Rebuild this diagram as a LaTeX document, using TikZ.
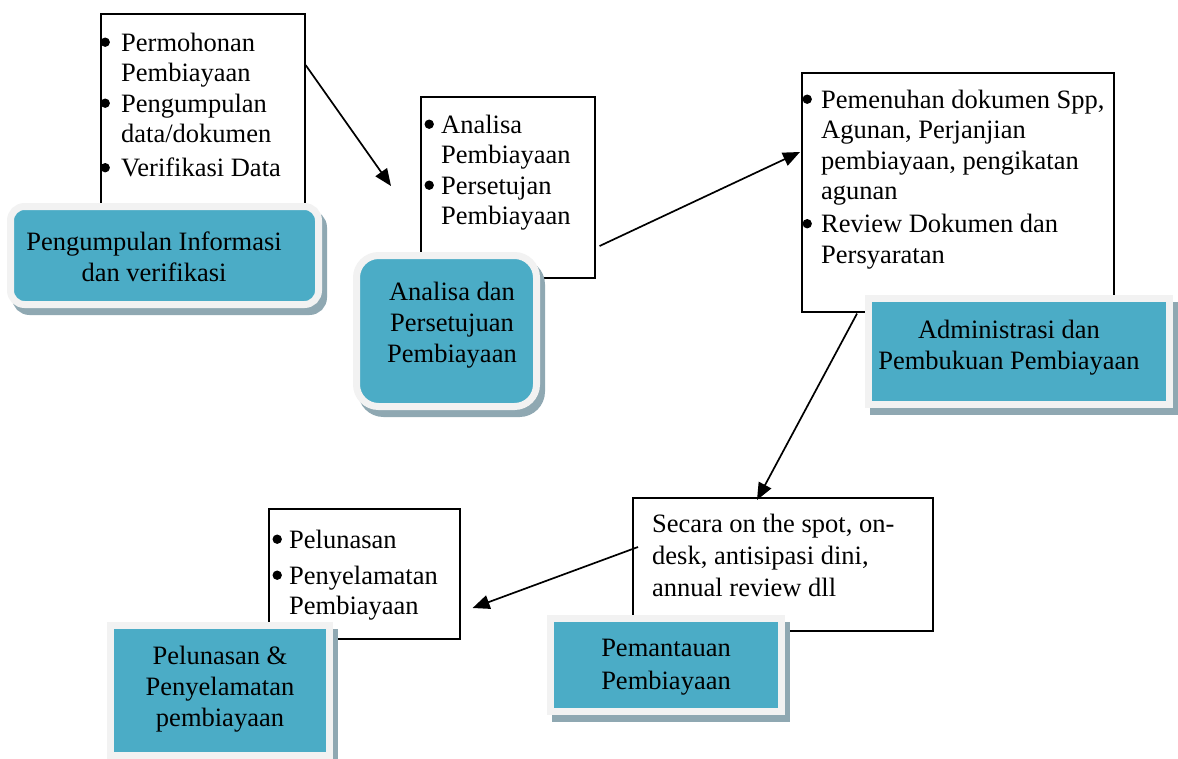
\documentclass[tikz,border=0pt]{standalone}
\usepackage{fontspec}
\setmainfont{Liberation Serif}
\usetikzlibrary{arrows.meta,calc}
\definecolor{tealc}{HTML}{4BACC6}
\definecolor{lightc}{HTML}{F2F2F2}
\definecolor{shadowc}{RGB}{143,168,178}
\newcommand\mybul[1]{\makebox[#1][l]{\hspace{0.3pt}\tikz[x=1pt,y=1pt,baseline=0pt]\fill (4.7,8.8) circle (4.7);}}
\begin{document}
\begin{tikzpicture}[x=1pt,y=-1pt,
  wbox/.style={draw=black, line width=1.6pt, fill=white, anchor=north west, inner sep=0pt},
  tbox/.style={draw=lightc, fill=tealc, line width=7pt, inner sep=0pt,
     preaction={draw=shadowc, fill=shadowc, line width=7pt, transform canvas={shift={(5pt,-7pt)}}}},
  ttext/.style={align=center, inner sep=0pt, font=\fontsize{26.5}{31}\selectfont},
  ltext/.style={anchor=base west, inner sep=0pt, font=\fontsize{26.5}{30.5}\selectfont},
  conn/.style={line width=1.7pt, -{Triangle[length=17pt,width=14pt]}}
]
\useasboundingbox (0,0) rectangle (1178,758);

% white list boxes
\node[wbox, minimum width=204pt, minimum height=205pt] (w1) at (100,13) {};
\node[wbox, minimum width=174pt, minimum height=181pt] (w2) at (420,96) {};
\node[wbox, minimum width=312pt, minimum height=239pt] (w3) at (801,72) {};
\node[wbox, minimum width=300pt, minimum height=133pt] (w4) at (632,497) {};
\node[wbox, minimum width=191pt, minimum height=130pt] (w5) at (268,508) {};

% list texts
\node[ltext] (l1) at (100,51) {\begin{tabular}[t]{@{}l@{}l@{}}
\mybul{21pt} & Permohonan\\ & Pembiayaan\\ \mybul{21pt} & Pengumpulan\\ & data/dokumen\\[3.5pt] \mybul{21pt} & Verifikasi Data\end{tabular}};
\node[ltext] (l2) at (424,133) {\begin{tabular}[t]{@{}l@{}l@{}}
\mybul{17pt} & Analisa\\ & Pembiayaan\\ \mybul{17pt} & Persetujan\\ & Pembiayaan\end{tabular}};
\node[ltext] (l3) at (802,108) {\begin{tabular}[t]{@{}l@{}l@{}}
\mybul{19pt} & Pemenuhan dokumen Spp,\\ & Agunan, Perjanjian\\ & pembiayaan, pengikatan\\ & agunan\\[2.5pt] \mybul{19pt} & Review Dokumen dan\\ & Persyaratan\end{tabular}};
\node[ltext, font=\fontsize{26.5}{32}\selectfont] (l4) at (652,532) {\begin{tabular}[t]{@{}l@{}}
Secara on the spot, on-\\ desk, antisipasi dini,\\ annual review dll\end{tabular}};
\node[ltext] (l5) at (272,548) {\begin{tabular}[t]{@{}l@{}l@{}}
\mybul{17pt} & Pelunasan\\[5.5pt] \mybul{17pt} & Penyelamatan\\ & Pembiayaan\end{tabular}};

% connectors
\draw[conn] ($(w1.north east)+(0,52)$) -- ($(w2.north west)+(-29,90)$);
\draw[conn] ($(w2.north east)+(4,150)$) -- ($(w3.north west)+(-1,80)$);
\draw[conn] ($(w3.south west)+(56,1)$) -- ($(w4.north west)+(125,3)$);
\draw[conn] ($(w4.north west)+(6,50)$) -- ($(w5.north east)+(12,100)$);

% teal stage boxes
\node[tbox, rounded corners=14pt, minimum width=308pt, minimum height=98pt] (b1) at (164.5,255.5) {};
\node[ttext] (t1) at (154,257) {Pengumpulan Informasi\\dan verifikasi};
\node[tbox, rounded corners=22pt, minimum width=180pt, minimum height=151pt] (b2) at (446.5,331) {};
\node[ttext] (t2) at (452,325.5) {Analisa dan\\Persetujuan\\Pembiayaan};
\node[tbox, minimum width=301pt, minimum height=106pt] (b3) at (1019,351.5) {};
\node[ttext] (t3) at (1009,347.5) {Administrasi dan\\Pembukuan Pembiayaan};
\node[tbox, minimum width=231pt, minimum height=93pt] (b4) at (666,665) {};
\node[ttext, font=\fontsize{26.5}{33}\selectfont] (t4) at (666,667.5) {Pemantauan\\Pembiayaan};
\node[tbox, minimum width=219pt, minimum height=130pt] (b5) at (220,690.5) {};
\node[ttext] (t5) at (220,689) {Pelunasan \&\\Penyelamatan\\pembiayaan};
\end{tikzpicture}
\end{document}
